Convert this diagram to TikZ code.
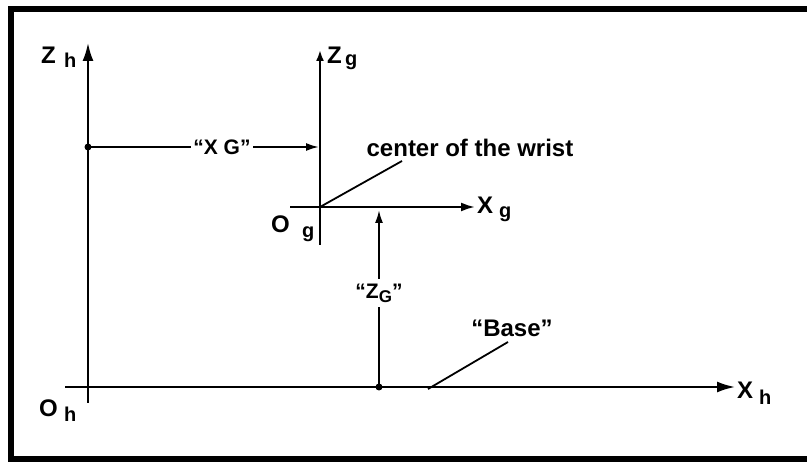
\documentclass[tikz,border=0pt]{standalone}
\usepackage{fontspec}
\setmainfont{Liberation Sans}
\usetikzlibrary{arrows.meta}
\begin{document}
\begin{tikzpicture}[x=1pt,y=-1pt,
  axis/.style={line width=2.2pt,-{Latex[length=18pt,width=11pt]}},
  dimarrow/.style={line width=2pt,-{Latex[length=13pt,width=8pt]}},
  leader/.style={line width=1.8pt},
  big/.style={font=\fontsize{24}{24}\selectfont\bfseries,inner sep=0pt},
  sub/.style={font=\fontsize{20}{20}\selectfont\bfseries,inner sep=0pt},
  note/.style={font=\fontsize{24}{24}\selectfont\bfseries,inner sep=0pt},
  dimlbl/.style={font=\fontsize{21}{21}\selectfont\bfseries,fill=white,inner sep=2pt},
  dot/.style={circle,fill=black,inner sep=0pt,minimum size=7pt}]
\useasboundingbox (0,0) rectangle (807,462);
\fill[white] (0,0) rectangle (807,462);
\draw[line width=6pt] (11,9) rectangle (820,459);
% coordinates
\coordinate (zhb) at (88,403);
\coordinate (zht) at (88,43);
\coordinate (xhl) at (65,387);
\coordinate (xhr) at (735,387);
\coordinate (zgb) at (320,245);
\coordinate (zgt) at (320,50);
\coordinate (xgl) at (290,207);
\coordinate (xgr) at (475,207);
\coordinate (og) at (320,207);
\node[dot] (d1) at (88,147) {};
\node[dot] (d2) at (379,387) {};
\coordinate (xgtip) at (319,147);
\coordinate (zgtip) at (379,210);
\coordinate (wend) at (402,161);
\coordinate (bstart) at (428,389);
\coordinate (bend) at (508,342);
% axes
\draw[axis] (zhb) -- (zht);
\draw[axis] (xhl) -- (xhr);
\draw[line width=2.2pt,-{Latex[length=11pt,width=8pt]}] (zgb) -- (zgt);
\draw[line width=2.2pt,-{Latex[length=14pt,width=9pt]}] (xgl) -- (xgr);
% dimension arrows
\draw[dimarrow] (d1.center) -- node[dimlbl,pos=0.58] (xG) {“X G”} (xgtip);
\draw[dimarrow] (d2.center) -- node[dimlbl,pos=0.53,inner ysep=5pt] (zG) {“Z\raisebox{-4pt}{\fontsize{17}{17}\selectfont G}”} (zgtip);
% leaders
\draw[leader] (og) -- (wend);
\draw[leader] (bstart) -- (bend);
\node[note] (wrist) at (470,148) {center of the wrist};
\node[note] (base) at (512,328) {“Base”};
% axis labels
\node[big,anchor=base west] (Zh) at (41,64) {Z};
\node[sub,anchor=base west] (Zhs) at (64,68) {h};
\node[big,anchor=base west] (Zg) at (327,64) {Z};
\node[sub,anchor=base west] (Zgs) at (345,66) {g};
\node[big,anchor=base west] (Xg) at (477,214) {X};
\node[sub,anchor=base west] (Xgs) at (499,218) {g};
\node[big,anchor=base west] (Og) at (271,233) {O};
\node[sub,anchor=base west] (Ogs) at (302,238) {g};
\node[big,anchor=base west] (Oh) at (39,417) {O};
\node[sub,anchor=base west] (Ohs) at (64,422) {h};
\node[big,anchor=base west] (Xh) at (737,399) {X};
\node[sub,anchor=base west] (Xhs) at (759,405) {h};
\end{tikzpicture}
\end{document}
